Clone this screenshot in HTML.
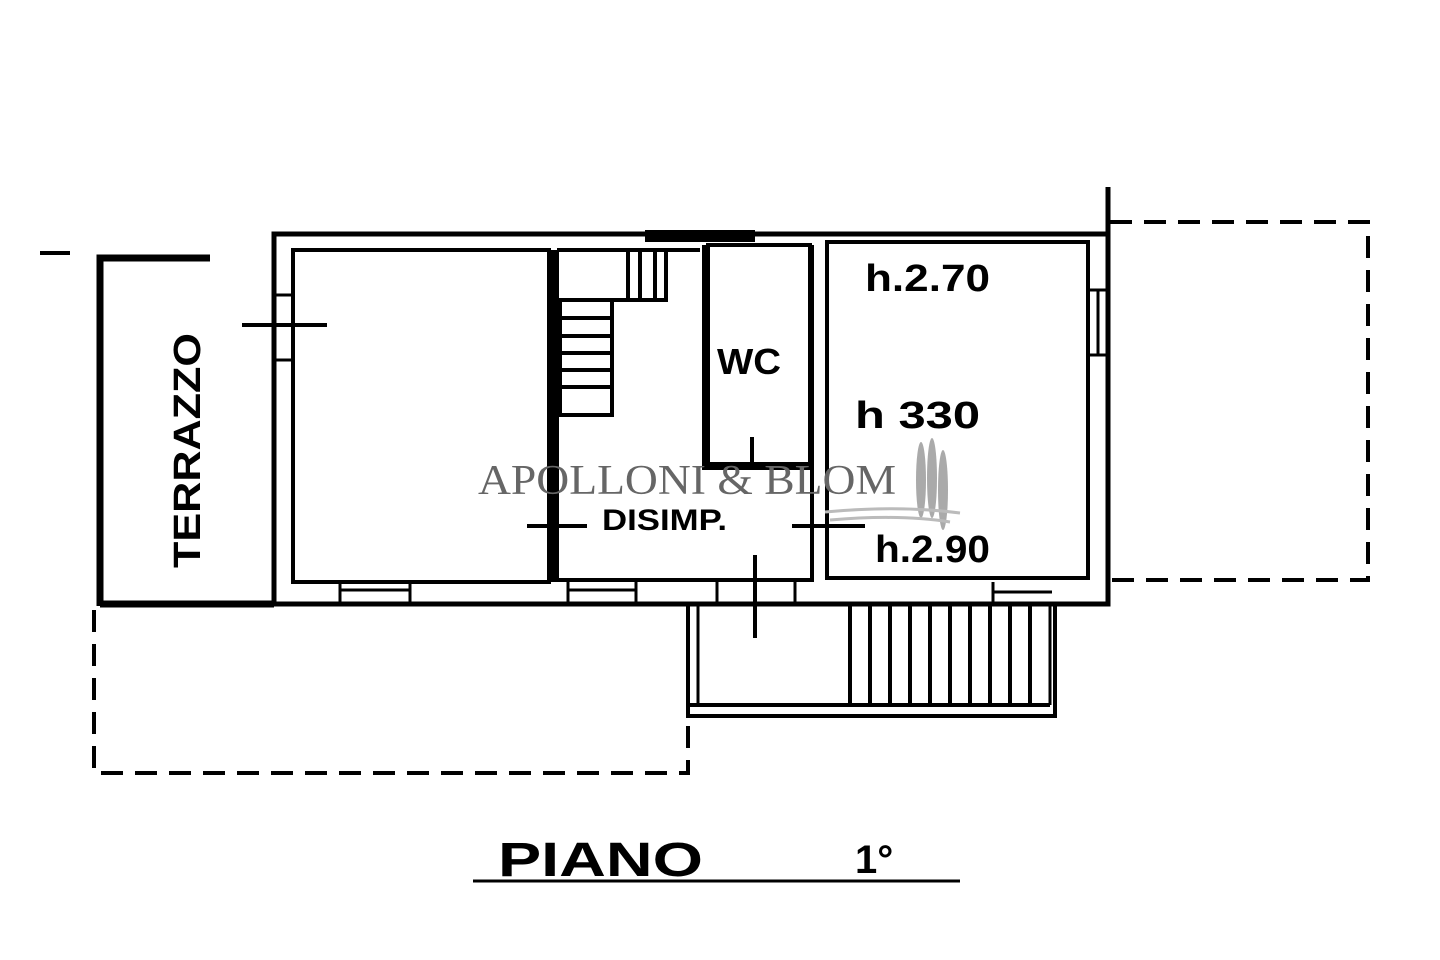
<!DOCTYPE html>
<html><head><meta charset="utf-8"><style>
html,body{margin:0;padding:0;background:#fff;width:1440px;height:960px;overflow:hidden}
svg{display:block}
.t{font-family:"Liberation Sans",sans-serif;font-weight:bold;fill:#000}
</style></head><body>
<svg width="1440" height="960" viewBox="0 0 1440 960" xmlns="http://www.w3.org/2000/svg">
<g fill="none" stroke="#000" stroke-width="5">
<!-- outer building -->
<path d="M274 604 V234 H1108"/>
<path d="M1108 187 V604 H274"/>
<!-- left room inner -->
<rect x="293" y="250" width="256" height="332" stroke-width="4"/>
<!-- disimp inner -->
<path d="M557 250 H700 M557 250 V580 H812 V245" stroke-width="4"/>
<line x1="553" y1="250" x2="553" y2="582" stroke-width="8"/>
<!-- WC -->
<rect x="708" y="245" width="102" height="222" stroke-width="4"/>
<line x1="706" y1="245" x2="706" y2="470" stroke-width="8"/>
<line x1="706" y1="466" x2="812" y2="466" stroke-width="8"/>
<!-- right room -->
<rect x="827" y="242" width="261" height="336" stroke-width="4"/>
<line x1="1088" y1="290" x2="1108" y2="290" stroke-width="3"/>
<line x1="1088" y1="355" x2="1108" y2="355" stroke-width="3"/>
<line x1="1098" y1="290" x2="1098" y2="355" stroke-width="3"/>
<!-- top black block -->
<rect x="645" y="230" width="110" height="12" fill="#000" stroke="none"/>
<!-- stairs -->
<rect x="560" y="300" width="52" height="115" stroke-width="4"/>
<g stroke-width="4"><line x1="560" y1="318" x2="612" y2="318"/><line x1="560" y1="336" x2="612" y2="336"/><line x1="560" y1="353" x2="612" y2="353"/><line x1="560" y1="370" x2="612" y2="370"/><line x1="560" y1="387" x2="612" y2="387"/></g>
<path d="M612 300 H666 V250" stroke-width="4"/>
<g stroke-width="4"><line x1="628" y1="252" x2="628" y2="298"/><line x1="640" y1="252" x2="640" y2="298"/><line x1="655" y1="252" x2="655" y2="298"/></g>
<!-- window lines bottom -->
<g stroke-width="3"><line x1="340" y1="590" x2="410" y2="590"/><line x1="340" y1="582" x2="340" y2="604"/><line x1="410" y1="582" x2="410" y2="604"/>
<line x1="568" y1="590" x2="636" y2="590"/><line x1="568" y1="582" x2="568" y2="604"/><line x1="636" y1="582" x2="636" y2="604"/>
<line x1="717" y1="582" x2="717" y2="604"/><line x1="795" y1="582" x2="795" y2="604"/>
<line x1="993" y1="582" x2="993" y2="604"/><line x1="993" y1="592" x2="1052" y2="592"/>
<line x1="274" y1="295" x2="292" y2="295"/><line x1="274" y1="360" x2="292" y2="360"/></g>
<!-- crosses -->
<g stroke-width="4"><line x1="242" y1="325" x2="327" y2="325"/><line x1="527" y1="526" x2="587" y2="526"/><line x1="792" y1="526" x2="865" y2="526"/><line x1="755" y1="555" x2="755" y2="638"/><line x1="752" y1="437" x2="752" y2="470"/></g>
<!-- terrazzo -->
<path d="M100 606 V258 H210" stroke-width="7"/>
<line x1="100" y1="604" x2="274" y2="604" stroke-width="7"/>
<line x1="40" y1="253" x2="70" y2="253" stroke-width="4"/>
<!-- balcony -->
<path d="M688 604 V716 H1055 V604" stroke-width="4"/>
<line x1="698" y1="604" x2="698" y2="705" stroke-width="3"/>
<line x1="690" y1="705" x2="1050" y2="705" stroke-width="4"/>
<line x1="1050" y1="604" x2="1050" y2="705" stroke-width="3"/>
<g stroke-width="4"><line x1="850" y1="604" x2="850" y2="705"/><line x1="870" y1="604" x2="870" y2="705"/><line x1="890" y1="604" x2="890" y2="705"/><line x1="910" y1="604" x2="910" y2="705"/><line x1="930" y1="604" x2="930" y2="705"/><line x1="950" y1="604" x2="950" y2="705"/><line x1="970" y1="604" x2="970" y2="705"/><line x1="990" y1="604" x2="990" y2="705"/><line x1="1010" y1="604" x2="1010" y2="705"/><line x1="1030" y1="604" x2="1030" y2="705"/></g>
<!-- dashed -->
<g stroke-width="4" stroke-dasharray="22,12">
<path d="M94 610 V773 H688 V610"/>
<path d="M1110 222 H1368 V580 H1110"/>
</g>
<!-- underline -->
<line x1="473" y1="881" x2="960" y2="881" stroke-width="3"/>
</g>
<text class="t" x="865" y="291" font-size="38" textLength="125" lengthAdjust="spacingAndGlyphs">h.2.70</text>
<text class="t" x="717" y="374" font-size="36" textLength="64" lengthAdjust="spacingAndGlyphs">WC</text>
<text class="t" x="855" y="428" font-size="38" textLength="125" lengthAdjust="spacingAndGlyphs">h  330</text>
<text class="t" x="602" y="530" font-size="30" textLength="125" lengthAdjust="spacingAndGlyphs">DISIMP.</text>
<text class="t" x="875" y="562" font-size="38" textLength="115" lengthAdjust="spacingAndGlyphs">h.2.90</text>
<text class="t" x="0" y="0" font-size="38" textLength="235" lengthAdjust="spacingAndGlyphs" transform="translate(200,568) rotate(-90)">TERRAZZO</text>
<text class="t" x="498" y="876" font-size="48" textLength="205" lengthAdjust="spacingAndGlyphs">PIANO</text>
<text class="t" x="855" y="873" font-size="40">1°</text>
<text x="478" y="494" font-family="Liberation Serif,serif" font-size="42" fill="#666" textLength="418" lengthAdjust="spacingAndGlyphs">APOLLONI &amp; BLOM</text>
<g fill="#aaa"><ellipse cx="921" cy="480" rx="5" ry="38"/><ellipse cx="932" cy="478" rx="5" ry="40"/><ellipse cx="943" cy="490" rx="5" ry="40"/></g>
<path d="M825 512 Q900 505 960 513 M830 520 Q900 514 950 522" stroke="#bbb" stroke-width="3" fill="none"/>
</svg>
</body></html>
